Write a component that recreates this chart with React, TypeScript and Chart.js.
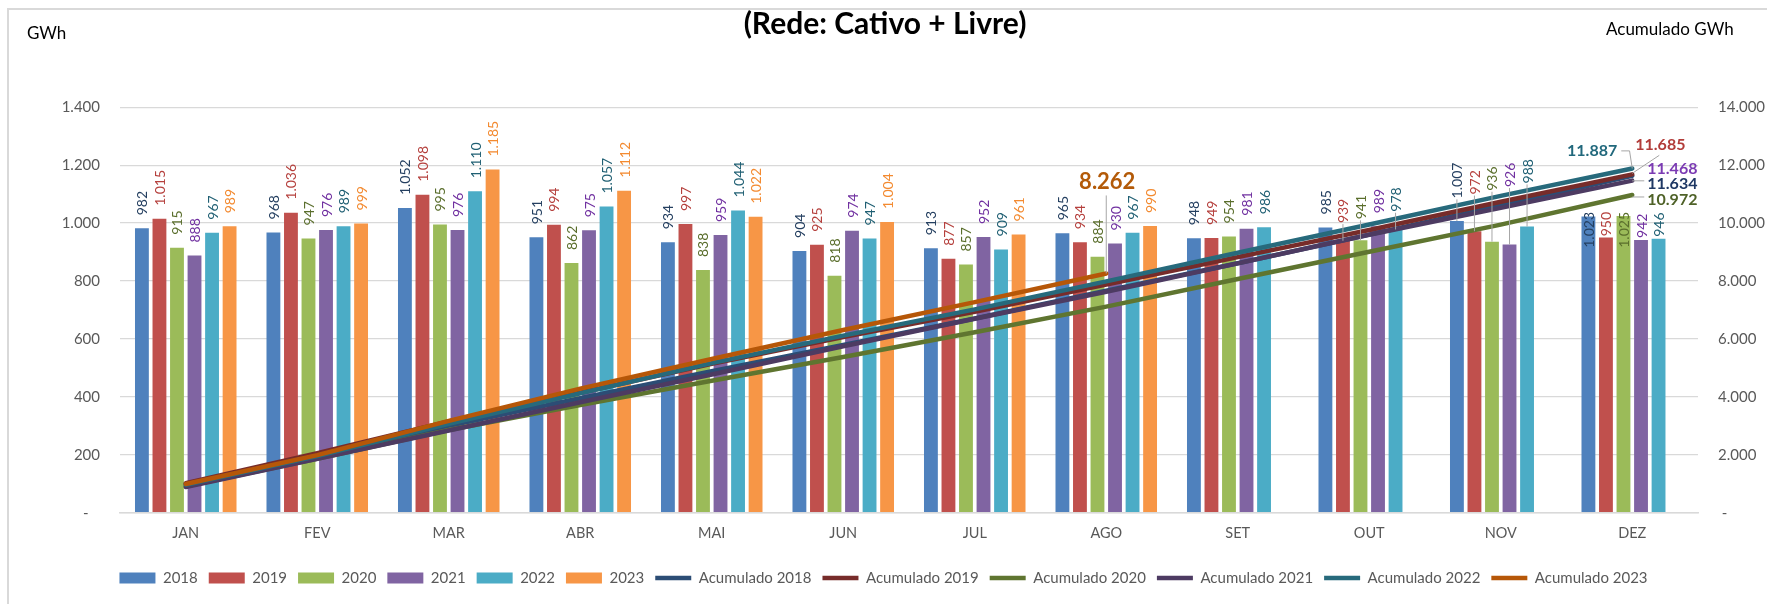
import React, { useEffect, useRef } from 'react';
import { Chart, registerables } from 'chart.js';

Chart.register(...registerables);

// ---------- data ----------
const months = ['JAN', 'FEV', 'MAR', 'ABR', 'MAI', 'JUN', 'JUL', 'AGO', 'SET', 'OUT', 'NOV', 'DEZ'];
const years = ['2018', '2019', '2020', '2021', '2022', '2023'];

const v2018 = [982, 968, 1052, 951, 934, 904, 913, 965, 948, 985, 1007, 1023];
const v2019 = [1015, 1036, 1098, 994, 997, 925, 877, 934, 949, 939, 972, 950];
const v2020 = [915, 947, 995, 862, 838, 818, 857, 884, 954, 941, 936, 1025];
const v2021 = [888, 976, 976, 975, 959, 974, 952, 930, 981, 989, 926, 942];
const v2022 = [967, 989, 1110, 1057, 1044, 947, 909, 967, 986, 978, 988, 946];
const v2023 = [989, 999, 1185, 1112, 1022, 1004, 961, 990];

const acc2018 = [982, 1950, 3002, 3953, 4887, 5791, 6704, 7669, 8617, 9602, 10609, 11634];
const acc2019 = [1015, 2051, 3149, 4143, 5140, 6065, 6942, 7876, 8825, 9764, 10736, 11685];
const acc2020 = [915, 1862, 2857, 3719, 4557, 5375, 6232, 7116, 8070, 9011, 9947, 10972];
const acc2021 = [888, 1864, 2840, 3815, 4774, 5748, 6700, 7630, 8611, 9600, 10526, 11468];
const acc2022 = [967, 1956, 3066, 4123, 5167, 6114, 7023, 7990, 8976, 9954, 10942, 11887];
const acc2023 = [989, 1988, 3173, 4285, 5307, 6311, 7272, 8262];

const leftTicks = [0, 200, 400, 600, 800, 1000, 1200, 1400];
const rightTicks = [0, 2000, 4000, 6000, 8000, 10000, 12000, 14000];

const monthly = [v2018, v2019, v2020, v2021, v2022, v2023];
const accumulated = [acc2018, acc2019, acc2020, acc2021, acc2022, acc2023];

// ---------- styles ----------
const FONT = 'Lato, "Open Sans", sans-serif';
const barColors = ['#4f81bd', '#c0504d', '#9bbb59', '#8064a2', '#4bacc6', '#f79646'];
const barLabelColors = ['#243f60', '#b5403d', '#5a6e2c', '#7030a0', '#1f5f73', '#f38a30'];
const lineColors = ['#2c4d75', '#772c2a', '#5f7530', '#4d3b62', '#276a7c', '#b65708'];
const endLabelColors = ['#1f3864', '#b23c39', '#4f6228', '#7b3bb3', '#21687c', '#b35a08'];
const GRID = '#d9d9d9';
const TICK = '#595959';
const LEADER = '#a6a6a6';

// placement of the end-of-line value labels relative to the last point
const endLabelLayout = [
  { dx: 15, dy: 8.3, align: 'left', size: 16, leader: [[0, 5], [12, 5]] },
  { dx: 3, dy: -29, align: 'left', size: 16, leader: [[0, -1], [27, -19]] },
  { dx: 15, dy: 4.6, align: 'left', size: 16, leader: [[0, 2], [12, 2]] },
  { dx: 15, dy: -11.4, align: 'left', size: 16, leader: [] },
  { dx: -15, dy: -17.6, align: 'right', size: 16, leader: [[-11, -17.6], [-2.7, -17.6], [0, 0]] },
  { dx: 1, dy: -92, align: 'center', size: 22, leader: [[0, -78], [0, 0]] },
];

const fmt = (v: number) => String(Math.round(v)).replace(/\B(?=(\d{3})+(?!\d))/g, '.');

function lineYsAt(lineMetas: any[], x: number) {
  const ys: number[] = [];
  for (const meta of lineMetas) {
    const pts = meta.data;
    for (let k = 0; k < pts.length - 1; k++) {
      const a = pts[k];
      const b = pts[k + 1];
      if (!a || !b || a.skip || b.skip) continue;
      if (x >= a.x && x <= b.x) {
        const t = (x - a.x) / (b.x - a.x);
        ys.push(a.y + t * (b.y - a.y));
        break;
      }
    }
  }
  return ys;
}

const framePlugin = {
  id: 'frameAndTitles',
  beforeDraw(chart: any) {
    const { ctx } = chart;
    ctx.save();
    ctx.fillStyle = '#ffffff';
    ctx.fillRect(0, 0, chart.width, chart.height);
    ctx.strokeStyle = GRID;
    ctx.lineWidth = 2;
    ctx.strokeRect(8, 9, chart.width + 20, chart.height + 20);
    ctx.fillStyle = '#000000';
    ctx.textBaseline = 'middle';
    ctx.textAlign = 'center';
    ctx.font = `bold 30px ${FONT}`;
    ctx.fillText('(Rede: Cativo + Livre)', 885, 24);
    ctx.textAlign = 'left';
    ctx.font = `17px ${FONT}`;
    ctx.fillText('GWh', 27, 34);
    ctx.fillText('Acumulado GWh', 1606, 30);
    ctx.restore();
  },
};

const labelsPlugin = {
  id: 'valueLabels',
  afterDatasetsDraw(chart: any) {
    const { ctx } = chart;
    const metas = chart.data.datasets.map((_: any, i: number) => chart.getDatasetMeta(i));
    const lineMetas = metas.filter((m: any) => m.type === 'line');
    const barMetas = metas.filter((m: any) => m.type === 'bar');
    const lastIdx = chart.data.labels.length - 1;
    let endFloor = -Infinity;
    lineMetas.forEach((m: any) => {
      const p = m.data[lastIdx];
      if (p && !p.skip && Number.isFinite(p.y)) endFloor = Math.max(endFloor, p.y);
    });

    ctx.save();
    ctx.font = `14px ${FONT}`;
    barMetas.forEach((meta: any, di: number) => {
      const ds = chart.data.datasets[meta.index];
      meta.data.forEach((bar: any, j: number) => {
        const v = ds.data[j];
        if (v == null) return;
        const text = fmt(v);
        const len = ctx.measureText(text).width;
        const top = bar.y;
        let start = top - 13;
        let leader = false;
        if (j === lastIdx && Number.isFinite(endFloor)) {
          start = Math.max(top - 2, endFloor + 17 + len);
        } else {
          const ys = lineYsAt(lineMetas, bar.x);
          const hit = ys.some((y) => y > start - len - 4 && y < top + 2);
          if (hit) {
            const s2 = Math.min(...ys) - 7;
            if (s2 < start) start = s2;
            if (start < top - 16) leader = true;
          }
        }
        if (leader) {
          ctx.strokeStyle = LEADER;
          ctx.lineWidth = 1;
          ctx.beginPath();
          ctx.moveTo(bar.x, start + 1);
          ctx.lineTo(bar.x, top);
          ctx.stroke();
        }
        ctx.save();
        ctx.translate(bar.x + 1, start);
        ctx.rotate(-Math.PI / 2);
        ctx.textAlign = 'left';
        ctx.textBaseline = 'middle';
        ctx.fillStyle = barLabelColors[di];
        ctx.fillText(text, 0, 0);
        ctx.restore();
      });
    });

    lineMetas.forEach((meta: any, li: number) => {
      const ds = chart.data.datasets[meta.index];
      const n = ds.data.length - 1;
      const p = meta.data[n];
      if (!p) return;
      const lay = endLabelLayout[li];
      if (lay.leader.length) {
        ctx.strokeStyle = LEADER;
        ctx.lineWidth = 1;
        ctx.beginPath();
        lay.leader.forEach(([dx, dy]: number[], k: number) => {
          if (k === 0) ctx.moveTo(p.x + dx, p.y + dy);
          else ctx.lineTo(p.x + dx, p.y + dy);
        });
        ctx.stroke();
      }
      ctx.font = `bold ${lay.size}px ${FONT}`;
      ctx.textAlign = lay.align;
      ctx.textBaseline = 'middle';
      ctx.fillStyle = endLabelColors[li];
      ctx.fillText(fmt(ds.data[n]), p.x + lay.dx, p.y + lay.dy);
    });
    ctx.restore();
  },
};

export default function App() {
  const ref = useRef<HTMLCanvasElement>(null);

  useEffect(() => {
    const barSets = years.map((y, i) => ({
      type: 'bar' as const,
      label: y,
      data: monthly[i],
      backgroundColor: barColors[i],
      borderWidth: 0,
      yAxisID: 'y',
      order: 10,
      pointStyle: 'rect',
      categoryPercentage: 0.8,
      barPercentage: 0.79,
    }));
    const lineSets = years.map((y, i) => ({
      type: 'line' as const,
      label: 'Acumulado ' + y,
      data: accumulated[i],
      borderColor: lineColors[i],
      backgroundColor: lineColors[i],
      borderWidth: 4.5,
      borderCapStyle: 'round',
      pointRadius: 0,
      pointHoverRadius: 0,
      pointStyle: 'line',
      tension: 0,
      fill: false,
      yAxisID: 'y1',
      order: 6 - i,
    }));

    const chart = new Chart(ref.current as HTMLCanvasElement, {
      type: 'bar',
      data: { labels: months, datasets: [...barSets, ...lineSets] as any },
      options: {
        responsive: false,
        animation: false,
        devicePixelRatio: 1,
        layout: { padding: { top: 107.3, bottom: 8.6, left: 0, right: 0 } },
        plugins: {
          title: { display: false },
          tooltip: { enabled: false },
          legend: {
            position: 'bottom',
            labels: {
              usePointStyle: true,
              pointStyleWidth: 36,
              boxHeight: 11,
              padding: 11,
              color: TICK,
              font: { family: FONT, size: 15 },
              sort: (a: any, b: any) => a.datasetIndex - b.datasetIndex,
            },
          },
        },
        scales: {
          x: {
            grid: { display: false, drawTicks: false },
            border: { color: GRID, width: 1.5 },
            ticks: { color: TICK, font: { family: FONT, size: 14.5 }, padding: 12 },
            afterFit: (s: any) => { s.height = 46.7; },
          },
          y: {
            position: 'left',
            min: leftTicks[0],
            max: leftTicks[leftTicks.length - 1],
            afterBuildTicks: (s: any) => { s.ticks = leftTicks.map((value) => ({ value })); },
            ticks: {
              color: TICK,
              font: { family: FONT, size: 15 },
              padding: 20,
              callback: (v: any) => (Number(v) === 0 ? '-   ' : fmt(Number(v))),
            },
            grid: { color: GRID, lineWidth: 1.3, drawTicks: false },
            border: { display: false },
            afterFit: (s: any) => { s.width = 120; },
          },
          y1: {
            position: 'right',
            min: rightTicks[0],
            max: rightTicks[rightTicks.length - 1],
            afterBuildTicks: (s: any) => { s.ticks = rightTicks.map((value) => ({ value })); },
            ticks: {
              color: TICK,
              font: { family: FONT, size: 15 },
              padding: 20,
              callback: (v: any) => (Number(v) === 0 ? ' -' : fmt(Number(v))),
            },
            grid: { drawOnChartArea: false, drawTicks: false },
            border: { display: false },
            afterFit: (s: any) => { s.width = 69; },
          },
        },
      },
      plugins: [framePlugin, labelsPlugin],
    } as any);
    return () => chart.destroy();
  }, []);

  return (
    <div style={{ position: 'absolute', left: 0, top: 0, width: 1767, height: 604, background: '#fff' }}>
      <canvas ref={ref} width={1767} height={604} style={{ display: 'block', width: 1767, height: 604 }} />
    </div>
  );
}
